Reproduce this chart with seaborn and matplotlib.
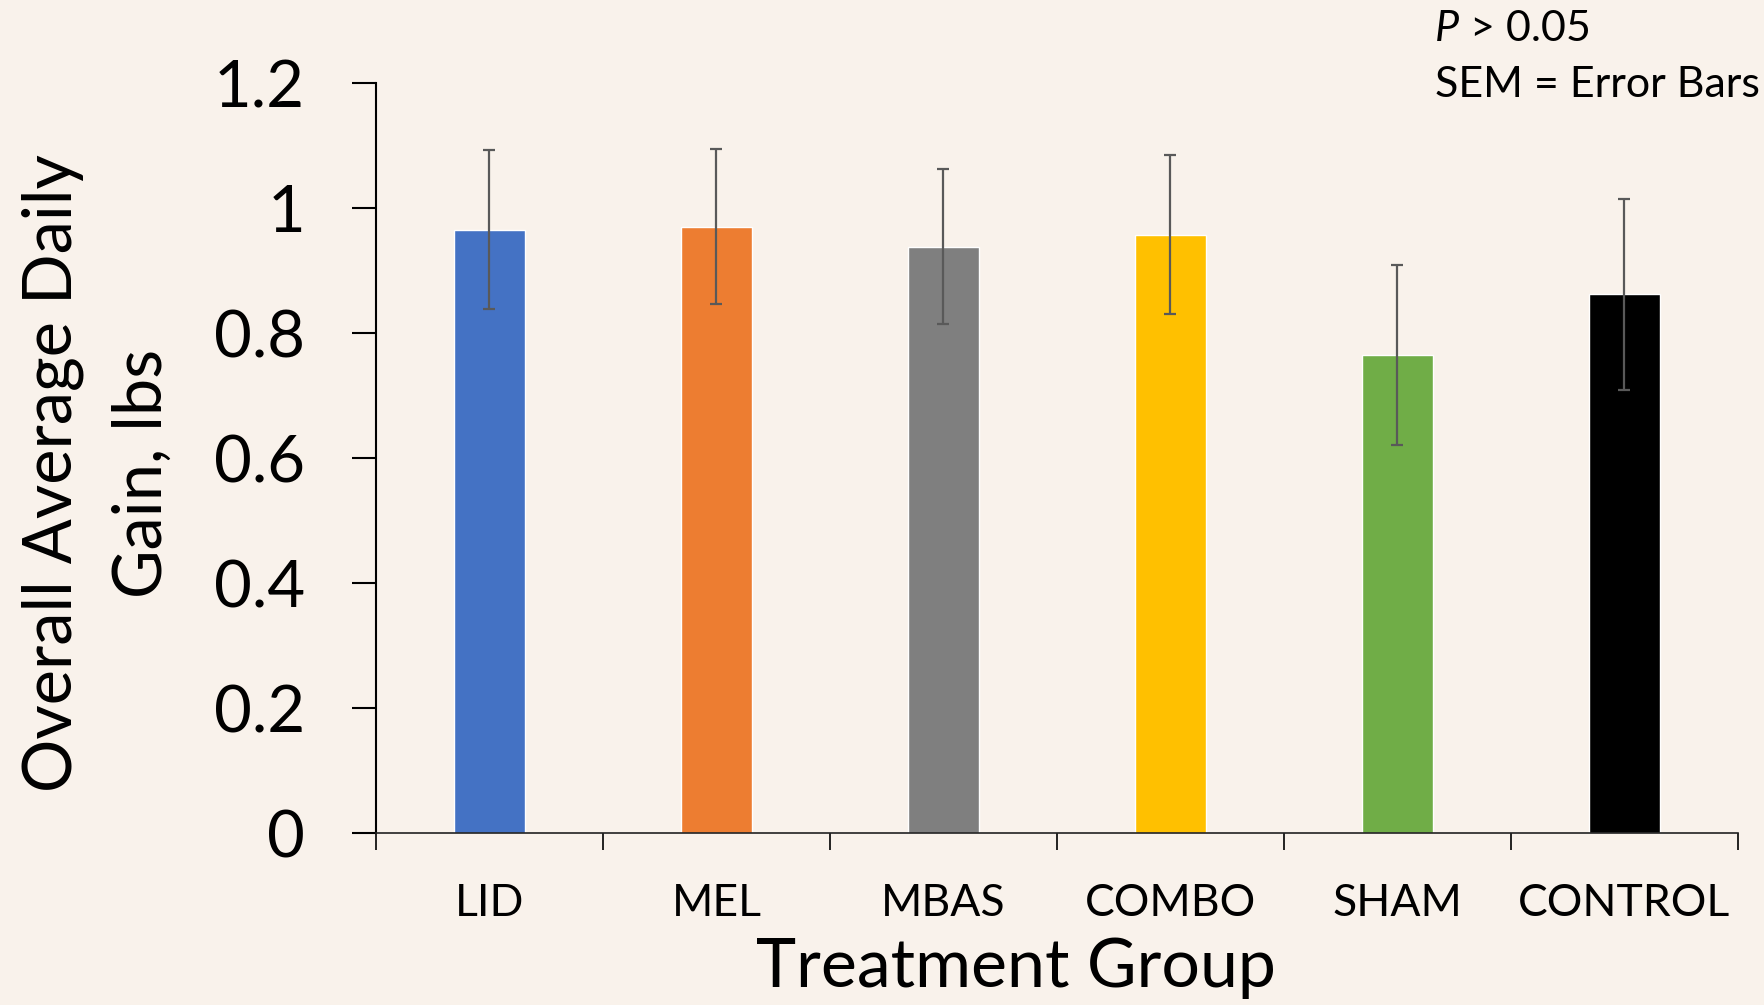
import matplotlib
matplotlib.use("Agg")
import matplotlib.pyplot as plt
import seaborn as sns
import pandas as pd
import numpy as np

# ---- data ----
groups = ["LID", "MEL", "MBAS", "COMBO", "SHAM", "CONTROL"]
adg = [0.965, 0.970, 0.938, 0.957, 0.765, 0.862]
sem = [0.127, 0.124, 0.124, 0.127, 0.144, 0.153]
colors = ["#4472C4", "#ED7D31", "#7F7F7F", "#FFC000", "#70AD47", "#000000"]
yticks = [0, 0.2, 0.4, 0.6, 0.8, 1.0, 1.2]
ytick_labels = ["0", "0.2", "0.4", "0.6", "0.8", "1", "1.2"]

BG = "#F9F2EB"
sns.set_theme(style="white")
plt.rcParams["font.family"] = ["Lato", "DejaVu Sans"]
plt.rcParams["text.color"] = "black"
plt.rcParams["xtick.color"] = "black"
plt.rcParams["ytick.color"] = "black"
plt.rcParams["xtick.labelcolor"] = "black"
plt.rcParams["ytick.labelcolor"] = "black"

W, H = 1765, 1005
fig = plt.figure(figsize=(W / 100, H / 100), dpi=100, facecolor=BG)
ax = fig.add_axes([376 / W, 1 - 833 / H, (1738 - 376) / W, (833 - 83) / H])
ax.set_facecolor(BG)

df = pd.DataFrame({"group": groups, "adg": adg})
sns.barplot(data=df, x="group", y="adg", hue="group", palette=colors,
            order=groups, hue_order=groups, legend=False, width=0.317,
            saturation=1, ax=ax, errorbar=None)
ax.errorbar(np.arange(len(groups)), adg, yerr=sem, fmt="none",
            ecolor="#595959", elinewidth=1.6, capsize=4.5, capthick=1.6, zorder=5)

ax.set_xlim(-0.5, len(groups) - 0.5)
ax.set_ylim(0, 1.2)
ax.set_yticks(yticks)
ax.set_yticklabels(ytick_labels, fontsize=47)
ax.tick_params(axis="y", length=17, width=1.5, direction="out", pad=34,
               color="black", labelcolor="black", left=True)
ax.set_xticks(np.arange(len(groups)))
ax.set_xticklabels(groups, fontsize=32)
ax.tick_params(axis="x", which="major", length=0, pad=36, labelcolor="black")
ax.set_xticks(np.arange(-0.5, len(groups)), minor=True)
ax.tick_params(axis="x", which="minor", length=12, width=1.2, direction="out",
               color="black", bottom=True)

for s in ["top", "right"]:
    ax.spines[s].set_visible(False)
ax.spines["left"].set_color("black")
ax.spines["left"].set_linewidth(1.5)
ax.spines["bottom"].set_color("#222222")
ax.spines["bottom"].set_linewidth(1.2)
ax.set_xlabel("")
ax.set_ylabel("")

fig.text(53 / W, 1 - 473 / H, "Overall Average Daily", rotation=90,
         ha="center", va="center", fontsize=48, color="black")
fig.text(143 / W, 1 - 473 / H, "Gain, lbs", rotation=90,
         ha="center", va="center", fontsize=48, color="black")
fig.text(1016 / W, 1 - 968 / H, "Treatment Group", ha="center", va="center",
         fontsize=49, color="black")

ptxt = fig.text(1435 / W, 1 - 29 / H, "P", ha="left", va="center", fontsize=31,
                style="italic", color="black")
fig.canvas.draw()
ax.annotate(" > 0.05", xy=(1, 0), xycoords=ptxt, ha="left", va="bottom",
            fontsize=31, color="black", annotation_clip=False)
fig.text(1435 / W, 1 - 85 / H, "SEM = Error Bars", ha="left", va="center",
         fontsize=31, color="black")

fig.savefig("out.png", dpi=100, facecolor=BG)
